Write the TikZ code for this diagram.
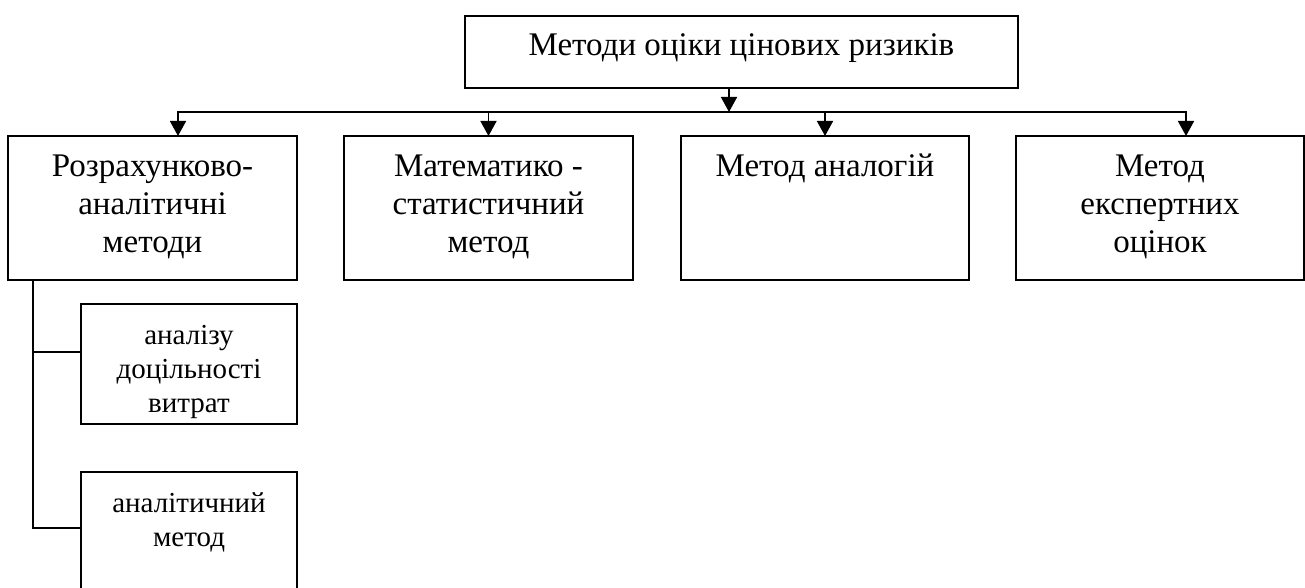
\documentclass[tikz,border=0pt]{standalone}
\usepackage{fontspec}
\setmainfont{Liberation Serif}
\usetikzlibrary{arrows.meta}
\newcommand{\boxtext}[5]{\parbox[c][#2pt][t]{#1pt}{\centering\fontsize{#3}{#4}\selectfont\rule{0pt}{40pt}#5\par}}
\begin{document}
\begin{tikzpicture}[x=1pt,y=-1pt,
  line width=1.6pt,
  mbox/.style={draw, rectangle, inner sep=0pt, outer sep=0pt},
  arr/.style={-{Triangle[width=16pt,length=15pt]}},
  conn/.style={line cap=rect}]
\useasboundingbox (0,0) rectangle (1305,588);
\clip (0,0) rectangle (1305,588);
\node[mbox] (top) at (741.5,52) {\boxtext{553}{72}{33}{38}{Методи оціки цінових ризиків}};
\node[mbox] (b1) at (152.5,208) {\boxtext{289}{144}{33}{38}{Розрахунково-\\аналітичні\\методи}};
\node[mbox] (b2) at (488.5,208) {\boxtext{289}{144}{33}{38}{Математико -\\статистичний\\метод}};
\node[mbox] (b3) at (825,208) {\boxtext{288}{144}{33}{38}{Метод аналогій}};
\node[mbox] (b4) at (1160,208) {\boxtext{288}{144}{33}{38}{Метод\\експертних\\оцінок}};
\node[mbox] (s1) at (189,364) {\boxtext{216}{120}{29}{34}{аналізу\\доцільності\\витрат}};
\node[mbox] (s2) at (189,542) {\boxtext{216}{140}{29}{34}{аналітичний\\метод}};
\coordinate (bus) at (729,112);
\coordinate (bL) at (178,112);
\coordinate (bR) at (1186,112);
\coordinate (c1) at (33,352);
\coordinate (c2) at (33,528);
\draw[arr] (top.south -| bus) -- (bus);
\draw[conn] (bL) -- (bR);
\draw[arr] (bL) -- (bL |- b1.north);
\draw[arr] (b2.north |- bus) -- (b2.north);
\draw[arr] (b3.north |- bus) -- (b3.north);
\draw[arr] (bR) -- (bR |- b4.north);
\draw (b1.south -| c1) -- (c2) -- (c2 -| s2.west);
\draw (c1) -- (c1 -| s1.west);
\end{tikzpicture}
\end{document}
